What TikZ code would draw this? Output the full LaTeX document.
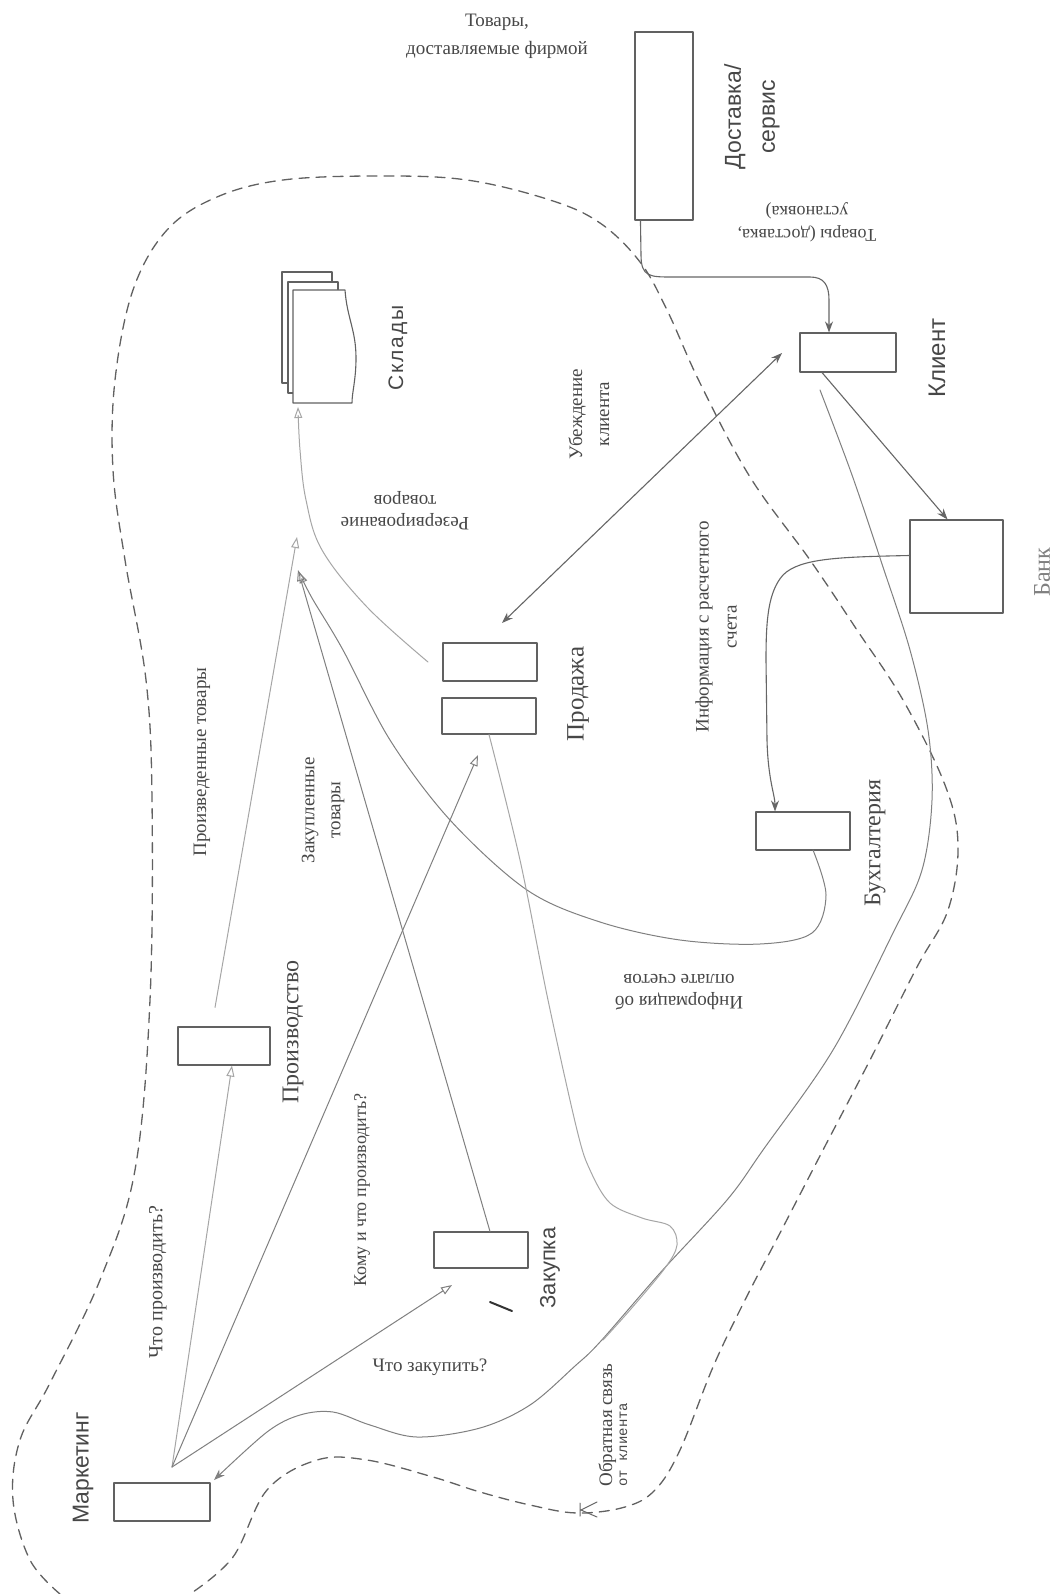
\documentclass[tikz,border=0pt]{standalone}
\usepackage{fontspec}
\setmainfont{Liberation Serif}
\setsansfont{Liberation Sans}
\newfontfamily\monof{Liberation Mono}
\usetikzlibrary{arrows.meta,calc}
\newcommand\fsz[2]{\fontsize{#1}{#2}\selectfont}
\begin{document}
\begin{tikzpicture}[x=1pt,y=-1pt,line cap=round,line join=round,
  box/.style={draw=black!62,line width=1.1pt,fill=white,inner sep=0pt},
  lbl/.style={text=black!72,inner sep=0pt,align=center},
  rlbl/.style={lbl,rotate=90},
  flbl/.style={lbl,rotate=180},
  dk/.style={draw=black!60,line width=1.1pt},
  md/.style={draw=black!50,line width=1pt},
  lt/.style={draw=black!35,line width=1pt},
  otip/.style={-{Triangle[open,length=11pt,width=8pt]}},
  stip/.style={-{Stealth[length=11pt,width=8pt]}},
  border/.style={draw=black!62,line width=1.3pt,dash pattern=on 10pt off 7pt}]
\fill[white] (0,0) rectangle (1064,1594);
\useasboundingbox (0,0) rectangle (1064,1594);

% ---- dashed boundary
\draw[border] plot[smooth,tension=0.6] coordinates {
 (60,1594) (30,1560) (13,1500) (20,1440) (50,1383) (100,1280) (135,1170)
 (150,1000) (152,800) (146,680) (125,560) (113,470) (115,380) (133,290)
 (167,230) (217,197) (283,180) (380,176) (467,180) (550,200) (600,223)
 (640,262) (667,310) (700,383) (750,477) (810,560) (857,630) (903,700)
 (945,785) (958,845) (948,910) (917,967) (870,1060) (823,1150) (780,1233)
 (745,1300) (713,1367) (680,1450) (655,1490) (625,1507) (577,1513)
 (530,1505) (480,1492) (433,1477) (367,1460) (317,1460) (267,1490)
 (233,1557) (190,1594)};

% ---- boxes
\node[box,minimum width=58pt,minimum height=188pt] (dost) at (664,126) {};
\node[box,minimum width=96pt,minimum height=39pt] (klient) at (848,352.5) {};
\node[box,minimum width=93pt,minimum height=93pt] (bank) at (956.5,566.5) {};
\node[box,minimum width=94pt,minimum height=38pt] (prod1) at (490,662) {};
\node[box,minimum width=94pt,minimum height=36pt] (prod2) at (489,716) {};
\node[box,minimum width=94pt,minimum height=38pt] (buh) at (803,831) {};
\node[box,minimum width=92pt,minimum height=38pt] (proizv) at (224,1046) {};
\node[box,minimum width=94pt,minimum height=36pt] (zak) at (481,1250) {};
\node[box,minimum width=96pt,minimum height=38pt] (mark) at (162,1502) {};

% ---- warehouses (stack of documents)
\draw[box] (282,272) rectangle (332,383);
\draw[box] (288,282) rectangle (338,393);
\draw[box] (293,290) -- (345,290) .. controls (347,318) and (356,330) .. (356,358)
  .. controls (356,380) and (352,392) .. (352,403) -- (293,403) -- cycle;
\coordinate (skl) at (298,407);

% ---- labels
\node[lbl,font=\fsz{19}{28}] (t-firm) at (497,36) {Товары,\\доставляемые фирмой};
\node[rlbl,font=\sffamily\fsz{23}{34}] (l-dost) at (752,117) {Доставка/\\сервис};
\node[flbl,font=\fsz{18}{23}] (t-ust) at (807,222) {Товары (доставка,\\установка)};
\node[rlbl,font=\sffamily\fsz{21}{25}\addfontfeatures{LetterSpace=8}] (l-skl) at (398,348) {Склады};
\node[rlbl,font=\sffamily\fsz{24}{28}] (l-kl) at (937,358) {Клиент};
\node[rlbl,font=\fsz{24}{28},text=black!50] (l-bank) at (1042,572) {Банк};
\node[rlbl,font=\fsz{19}{27}] (t-ub) at (589,414) {Убеждение\\клиента};
\node[flbl,font=\fsz{19}{22}] (t-rez) at (405,511) {Резервирование\\товаров};
\node[rlbl,font=\fsz{25}{29}] (l-prod) at (578,694) {Продажа};
\node[rlbl,font=\fsz{19}{28}] (t-inf1) at (716,627) {Информация с расчетного\\счета};
\node[rlbl,font=\fsz{24}{28}] (l-buh) at (875,843) {Бухгалтерия};
\node[rlbl,font=\fsz{19}{22}] (t-proiz) at (202,762) {Произведенные товары};
\node[rlbl,font=\fsz{19}{26}] (t-zakt) at (323,810) {Закупленные\\товары};
\node[rlbl,font=\fsz{24}{28}] (l-proizv) at (293,1032) {Производство};
\node[flbl,font=\fsz{19}{22}] (t-inf2) at (679,992) {Информация об\\оплате счетов};
\node[rlbl,font=\fsz{18}{22}] (t-komu) at (362,1190) {Кому и что производить?};
\node[rlbl,font=\fsz{20}{24}] (t-chto) at (158,1282) {Что производить?};
\node[lbl,font=\fsz{19}{22}] (t-zakq) at (430,1367) {Что закупить?};
\node[rlbl,font=\sffamily\fsz{23}{27}] (l-mark) at (83,1468) {Маркетинг};
\node[rlbl,font=\sffamily\fsz{22}{26}] (l-zak) at (550,1268) {Закупка};
\node[rlbl,align=left] (t-obr) at (613,1425) {{\fsz{19}{22}Обратная связь}\\[3pt]{\monof\fsz{14}{18}от клиента}};

% ---- named free ends
\coordinate (m0) at (172,1467);
\coordinate (tipA) at (297,537);
\coordinate (tipB) at (298,570);
\coordinate (ubA) at (502,623);
\coordinate (ubB) at (782,353);
\coordinate (toProd) at (478,755);
\coordinate (toZak) at (452,1285);

% ---- connectors
\draw[dk,stip] ($(dost.south west)+(6,0)$) -- (641,255) .. controls (641,277) and (650,277) .. (672,277)
  -- (810,277) .. controls (824,277) and (829,285) .. (829,300) -- ($(klient.north)+(-19,0)$);
\draw[dk,stip] ($(klient.south)+(-26,0)$) -- ($(bank.north)+(-9,0)$);
\draw[dk,{Stealth[length=11pt,width=8pt]}-{Stealth[length=11pt,width=8pt]}] (ubA) -- (ubB);
\draw[dk,stip] ($(bank.west)+(0,-11)$) .. controls (840,557) and (800,558) .. (783,575)
  .. controls (768,592) and (766,620) .. (766,660) -- (767,740)
  .. controls (768,780) and (775,795) .. ($(buh.north)+(-28,0)$);
\draw[md,otip] plot[smooth,tension=0.55] coordinates {(813,850) (826,895) (812,933) (760,944)
  (680,940) (600,922) (527,890) (450,820) (390,740) (343,650) (312,598) (299,572)};
\draw[lt,otip] plot[smooth,tension=0.6] coordinates {(428,662) (367,607) (322,550) (306,500) (300,450) (skl)};
\draw[lt,otip] ($(proizv.north)+(-9,-19)$) -- (tipA);
\draw[md,otip] ($(zak.north)+(9,0)$) -- (tipB);
\draw[lt,otip] (m0) -- ($(proizv.south)+(8,0)$);
\draw[md,otip] (m0) -- (toProd);
\draw[md,otip] (m0) -- (toZak);
\draw[md,stip] plot[smooth,tension=0.55] coordinates {(820,390) (852,475) (883,567) (910,650)
  (928,730) (932,800) (922,870) (893,933) (833,1050) (763,1150) (727,1200) (660,1273)
  (600,1342) (575,1366) (530,1405) (480,1428) (417,1437) (370,1425) (333,1412) (300,1415)
  (267,1432) (214,1480)};
\draw[lt] plot[smooth,tension=0.55] coordinates {(prod2.south) (520,860) (548,1000) (577,1130)
  (590,1170) (610,1203) (642,1218) (670,1226) (677,1245) (665,1268) (630,1310) (603,1340)};

% ---- scan marks
\draw[black!80,line width=2pt] (490,1302) -- (512,1311);
\draw[black!60,line width=1pt] (580,1503) -- (580,1516) (581,1510) -- (597,1502) (581,1510) -- (597,1517);
\end{tikzpicture}
\end{document}
